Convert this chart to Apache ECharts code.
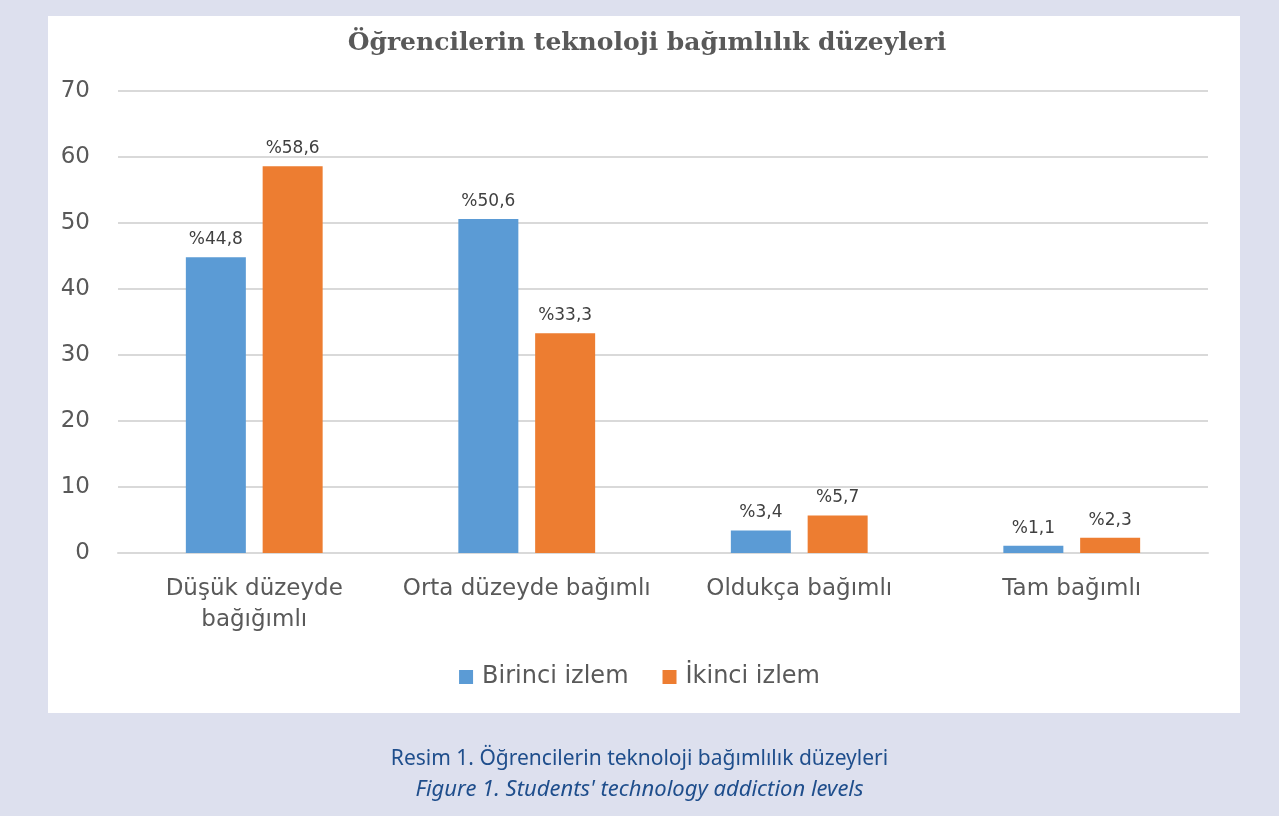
<!DOCTYPE html>
<html>
<head>
<meta charset="utf-8">
<script src="https://cdn.jsdelivr.net/npm/echarts@6/dist/echarts.min.js"></script>
<style>
  html, body { margin: 0; padding: 0; background: #dde0ee; }
  #chart { width: 1279px; height: 816px; }
</style>
</head>
<body>
<div id="chart"></div>
<script>
const categories = ['Düşük düzeyde\nbağığımlı', 'Orta düzeyde bağımlı', 'Oldukça bağımlı', 'Tam bağımlı'];
const seriesNames = ['Birinci izlem', 'İkinci izlem'];
const birinci = [44.8, 50.6, 3.4, 1.1];
const ikinci = [58.6, 33.3, 5.7, 2.3];
const yTicks = { min: 0, max: 70, interval: 10 };

const chart = echarts.init(document.getElementById('chart'));

// values shown as "%44,8" (Turkish style)
const labelFmt = p => '%' + String(p.value).replace('.', ',');
const barLabel = { show: true, position: 'top', distance: 9, formatter: labelFmt, fontFamily: 'DejaVu Sans', fontSize: 17, color: '#404040' };

const option = {
    backgroundColor: '#dde0ee',
    animation: false,
    title: {
        text: 'Öğrencilerin teknoloji bağımlılık düzeyleri',
        left: 642, top: 26, textAlign: 'center',
        textStyle: { fontFamily: 'DejaVu Serif', fontWeight: 'bold', fontSize: 25, color: '#595959' }
    },
    graphic: [
        { type: 'rect', z: -10, shape: { x: 48, y: 16, width: 1192, height: 697 }, style: { fill: '#ffffff' } },
        { type: 'text', left: 'center', top: 749, style: { text: 'Resim 1. Öğrencilerin teknoloji bağımlılık düzeyleri', font: '21px "Noto Sans"', fill: '#1f4e8c' } },
        { type: 'text', left: 'center', top: 779, style: { text: "Figure 1. Students' technology addiction levels", font: 'italic 22px "Noto Sans"', fill: '#1f4e8c' } }
    ],
    legend: {
        data: seriesNames,
        left: 'center', top: 660,
        itemWidth: 14, itemHeight: 14, itemGap: 34,
        icon: 'rect',
        textStyle: { fontFamily: 'DejaVu Sans', fontSize: 24, color: '#595959', padding: [0, 0, 0, 4] }
    },
    grid: { left: 118, right: 71, top: 91, bottom: 263 },
    xAxis: {
        type: 'category',
        data: categories,
        axisLine: { lineStyle: { color: '#d9d9d9', width: 2 } },
        axisTick: { show: false },
        axisLabel: { fontFamily: 'DejaVu Sans', fontSize: 23, color: '#595959', margin: 21, lineHeight: 31, interval: 0 }
    },
    yAxis: {
        type: 'value',
        min: yTicks.min, max: yTicks.max, interval: yTicks.interval,
        axisLine: { show: false },
        axisTick: { show: false },
        splitLine: { lineStyle: { color: '#d9d9d9', width: 2 } },
        axisLabel: { fontFamily: 'DejaVu Sans', fontSize: 23, color: '#595959', margin: 28 }
    },
    series: [
        {
            name: seriesNames[0], type: 'bar', data: birinci,
            barWidth: 60, barGap: '28%',
            itemStyle: { color: '#5b9bd5' },
            label: barLabel
        },
        {
            name: seriesNames[1], type: 'bar', data: ikinci,
            barWidth: 60,
            itemStyle: { color: '#ed7d31' },
            label: barLabel
        }
    ]
};

chart.setOption(option);
</script>
</body>
</html>
